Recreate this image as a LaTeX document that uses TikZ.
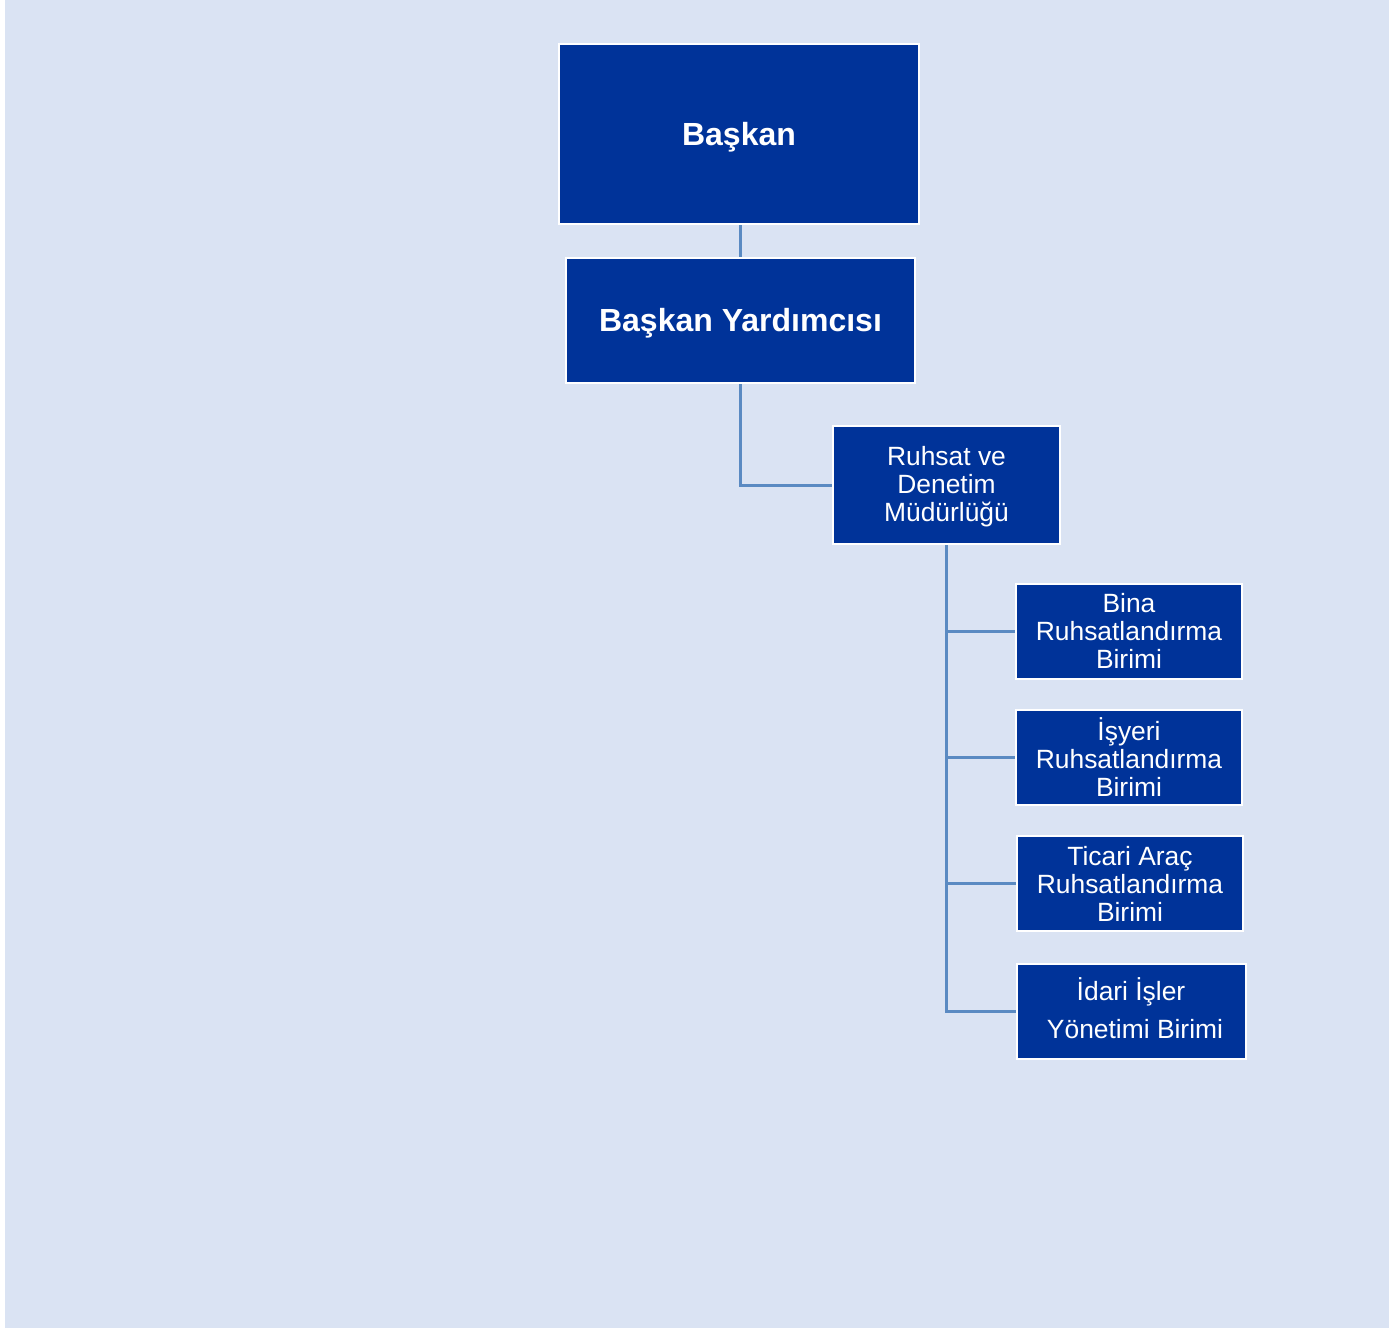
\documentclass[tikz,border=0pt]{standalone}
\usepackage{fontspec}
\setmainfont{Liberation Sans}
\usetikzlibrary{positioning}
\definecolor{pagebg}{HTML}{DAE3F3}
\definecolor{boxblue}{HTML}{003399}
\definecolor{linkblue}{HTML}{5A8AC2}

\begin{document}
\begin{tikzpicture}[
  x=0.5pt,y=-0.5pt,
  post/.style={draw=white,line width=1pt,fill=boxblue,text=white,align=center,inner sep=2pt},
  toppost/.style={post,text height=11.6pt,text depth=0.5pt,font=\fontsize{16}{19}\selectfont\bfseries},
  unit/.style={post,minimum width=113pt,minimum height=47.5pt,font=\fontsize{13.2}{14}\selectfont},
  link/.style={draw=linkblue,line width=1.5pt}
]
\useasboundingbox (0,0) rectangle (1396,1329);
\fill[white] (0,0) rectangle (1396,1329);
\fill[pagebg] (5,0) rectangle (1389,1328);

\node[toppost,minimum width=180pt,minimum height=90pt] (chief) at (739,134) {Başkan};
\node[toppost,minimum width=174.5pt,minimum height=62.5pt] (deputy) at (740.5,320.5) {Başkan Yardımcısı};
\node[unit,minimum width=113.5pt,minimum height=59pt] (office) at (946.5,485) {\rule{0pt}{11.6pt}Ruhsat ve\\Denetim\\Müdürlüğü};

\node[unit] (bina) at (1129,631) {Bina\\Ruhsatlandırma\\Birimi};
\node[unit] (isyeri) at (1129,757.5) {İşyeri\\Ruhsatlandırma\\Birimi};
\node[unit] (ticari) at (1130,883.5) {Ticari Araç\\Ruhsatlandırma\\Birimi};
\node[unit,minimum width=114.5pt] (idari) at (1131,1011.5) {İdari İşler\\[5pt]\hspace{4pt}Yönetimi Birimi\rule[-3pt]{0pt}{0pt}};

\draw[link] (deputy.north |- chief.south) -- (deputy.north);
\draw[link] (deputy.south) |- (office.west);
\foreach \u in {bina,isyeri,ticari,idari}
  \draw[link] (office.south) |- (\u.west);
\end{tikzpicture}
\end{document}
